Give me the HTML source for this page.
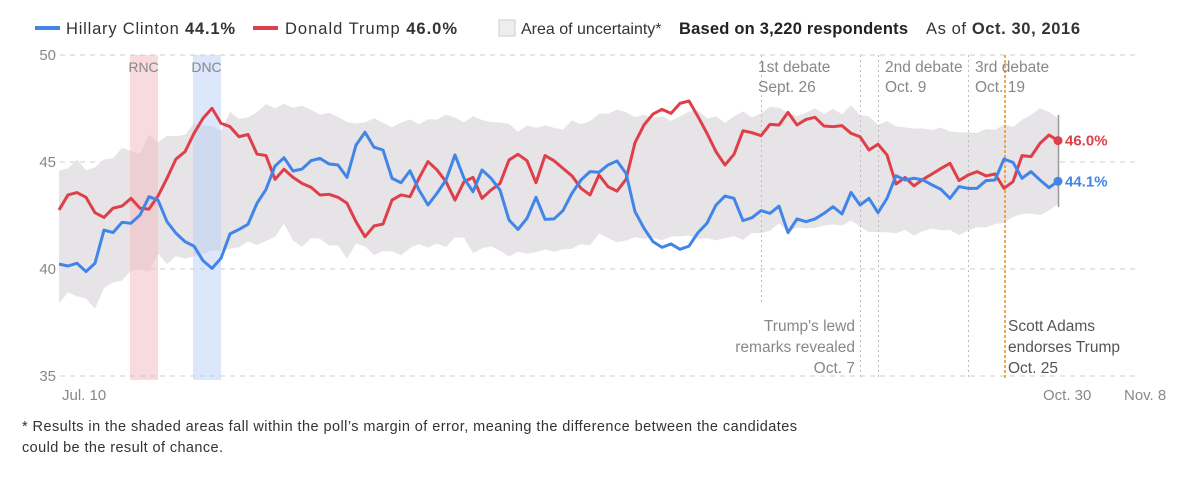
<!DOCTYPE html>
<html><head><meta charset="utf-8">
<style>
body{margin:0;background:#fff;font-family:"Liberation Sans",sans-serif;}
#wrap{position:relative;width:1200px;height:488px;overflow:hidden;}
svg text{font-family:"Liberation Sans",sans-serif;}
</style></head>
<body>
<div id="wrap">
<svg id="chart" width="1200" height="488">
  <g>
    <line x1="35" y1="28" x2="60" y2="28" stroke="#4285e8" stroke-width="4"/>
    <text x="66" y="34" font-size="16.5" fill="#333" textLength="169" lengthAdjust="spacing">Hillary Clinton <tspan font-weight="bold">44.1%</tspan></text>
    <line x1="253" y1="28" x2="278" y2="28" stroke="#de3f49" stroke-width="4"/>
    <text x="285" y="34" font-size="16.5" fill="#333" textLength="172" lengthAdjust="spacing">Donald Trump <tspan font-weight="bold">46.0%</tspan></text>
    <rect x="499" y="20" width="16" height="16" fill="#eeeeee" stroke="#ccc"/>
    <text x="521" y="34" font-size="16" fill="#333">Area of uncertainty*</text>
    <text x="679" y="34" font-size="16.5" fill="#222" font-weight="bold" textLength="229" lengthAdjust="spacing">Based on 3,220 respondents</text>
    <text x="926" y="34" font-size="16.5" fill="#333" textLength="154" lengthAdjust="spacing">As of <tspan font-weight="bold">Oct. 30, 2016</tspan></text>
  </g>
  <g id="grid"></g>
  <g id="band"></g>
  <g id="bands"></g>
  <g id="events"></g>
  <g id="lines"></g>
  <g id="labels"></g>
  <text x="22" y="431" font-size="14.5" fill="#333" textLength="775" lengthAdjust="spacing">* Results in the shaded areas fall within the poll’s margin of error, meaning the difference between the candidates</text>
  <text x="22" y="452" font-size="14.5" fill="#333" textLength="201" lengthAdjust="spacing">could be the result of chance.</text>
</svg>
</div>
<script>
const yTicks=[50,45,40,35];
const clinton=[40.23,40.14,40.27,39.88,40.27,41.82,41.70,42.18,42.14,42.52,43.38,43.22,42.21,41.67,41.28,41.07,40.39,40.03,40.50,41.64,41.85,42.09,43.07,43.72,44.81,45.20,44.58,44.67,45.06,45.17,44.91,44.86,44.28,45.79,46.39,45.69,45.56,44.24,44.03,44.59,43.69,42.99,43.54,44.16,45.33,44.24,43.61,44.63,44.24,43.69,42.29,41.85,42.37,43.35,42.32,42.34,42.73,43.54,44.16,44.55,44.52,44.86,45.05,44.47,42.68,41.90,41.28,41.01,41.17,40.92,41.07,41.70,42.14,42.99,43.41,43.30,42.26,42.40,42.73,42.60,42.94,41.70,42.34,42.21,42.34,42.60,42.91,42.57,43.58,42.99,43.30,42.63,43.30,44.36,44.16,44.24,44.16,43.93,43.72,43.30,43.85,43.77,43.77,44.13,44.16,45.14,44.98,44.24,44.55,44.16,43.80,44.10];
const trump=[42.76,43.46,43.57,43.35,42.63,42.41,42.84,42.94,43.30,42.84,42.80,43.41,44.24,45.14,45.48,46.34,47.04,47.51,46.81,46.65,46.18,46.29,45.37,45.30,44.19,44.66,44.28,44.00,43.82,43.46,43.49,43.35,43.07,42.21,41.51,42.01,42.10,43.22,43.46,43.38,44.24,45.02,44.63,44.08,43.22,44.08,44.28,43.30,43.69,44.00,45.09,45.36,45.06,44.03,45.30,45.06,44.70,44.35,43.77,43.46,44.39,43.85,43.64,44.19,45.90,46.73,47.24,47.46,47.27,47.74,47.85,47.12,46.34,45.48,44.86,45.36,46.46,46.37,46.23,46.76,46.73,47.32,46.73,46.99,47.09,46.68,46.65,46.70,46.34,46.18,45.56,45.83,45.33,43.97,44.28,43.88,44.19,44.44,44.70,44.94,44.13,44.39,44.55,44.35,44.44,43.77,44.08,45.30,45.25,45.87,46.26,46.00];
const margin=[3.1,2.9,3.2,3.0,3.3,3.0,2.9,3.1,2.8,2.7,3.2,2.6,3.0,2.8,2.9,3.1,3.0,2.9,2.8,3.2,3.0,2.9,3.1,3.2,3.0,2.8,3.1,3.3,3.0,2.9,3.1,3.0,3.2,2.8,2.9,3.2,3.0,2.9,3.1,3.0,2.8,3.0,2.9,3.1,2.8,2.7,3.2,3.0,2.9,3.0,3.1,2.8,3.0,2.9,2.9,2.9,2.8,3.0,2.8,2.9,2.8,2.9,3.1,3.0,2.8,2.9,2.8,2.9,2.7,2.8,2.9,3.0,2.8,2.9,2.7,2.8,3.0,2.7,2.8,2.9,2.7,2.8,2.6,2.7,2.8,2.6,2.7,2.6,2.7,2.6,2.7,2.5,2.6,2.5,2.4,2.5,2.4,2.3,2.4,2.3,2.4,2.3,2.2,2.3,2.2,2.3,2.1,2.2,2.3,2.5,2.3,2.0];
const conventions=[{name:"RNC",start:8,end:11,color:"#f2b8c0"},{name:"DNC",start:15,end:18,color:"#b9cff7"}];
const events=[{day:78,top:55,bottom:305},{day:89,top:55,bottom:380},{day:91,top:55,bottom:380},{day:101,top:55,bottom:380}];
const xLabels=[{day:0,text:"Jul. 10"},{day:112,text:"Oct. 30"},{day:121,text:"Nov. 8"}];

const X=d=>59+9*d, Y=v=>162-(v-45)*21.4;
const NS="http://www.w3.org/2000/svg";
function mk(tag,attrs,parent,text){const e=document.createElementNS(NS,tag);for(const k in attrs)e.setAttribute(k,attrs[k]);if(text!==undefined)e.textContent=text;document.getElementById(parent).appendChild(e);return e;}

yTicks.forEach(v=>{
  const l=mk('line',{x1:60,x2:1140,y1:Y(v),y2:Y(v),stroke:'#ccc','stroke-dasharray':'5,5'},'grid');
  
  
  const t=mk('text',{x:56,y:Y(v)+5,'text-anchor':'end','font-size':15,fill:'#888'},'labels',v);
  
  
});
let up='',lo='';
clinton.forEach((c,i)=>{const m=(c+trump[i])/2;up+=(i?'L':'M')+X(i)+','+Y(m+margin[i]);});
for(let i=clinton.length-1;i>=0;i--){const m=(clinton[i]+trump[i])/2;lo+='L'+X(i)+','+Y(m-margin[i]);}
const band=mk('path',{d:up+lo+'Z',fill:'#e6e4e7'},'band');


conventions.forEach(c=>{
  const r=mk('rect',{x:X(c.start)-1,y:55,width:X(c.end)-X(c.start)+1,height:325,fill:c.color,'fill-opacity':0.5},'bands');
  
  
  const t=mk('text',{x:(X(c.start)+X(c.end))/2-1,y:72,'text-anchor':'middle','font-size':14,fill:'#888'},'labels',c.name);
  
  
});
events.forEach(ev=>{
  const l=mk('line',{x1:X(ev.day)+.5,x2:X(ev.day)+.5,y1:ev.top,y2:ev.bottom,stroke:'#bbb','stroke-dasharray':'2,3'},'events');
  
  
});
const orange=mk('line',{x1:1005,x2:1005,y1:55,y2:380,stroke:'#f08c1c','stroke-width':1.5,'stroke-dasharray':'3,2'},'events');


const last=clinton.length-1;
const eb=mk('line',{x1:X(last)+0.5,x2:X(last)+0.5,y1:Y(Math.max(clinton[last],trump[last])+1.2),y2:Y(Math.min(clinton[last],trump[last])-1.2),stroke:'#999','stroke-width':1.5},'events');


[[trump,'#de3f49','trump'],[clinton,'#4285e8','clinton']].forEach(([arr,col,nm])=>{
  const p=mk('path',{d:arr.map((v,i)=>(i?'L':'M')+X(i)+','+Y(v)).join(''),fill:'none',stroke:col,'stroke-width':3,'stroke-linejoin':'round'},'lines');
  
  
  const d=mk('circle',{cx:X(last),cy:Y(arr[last]),r:4.5,fill:col},'lines');
  
  
  const t=mk('text',{x:X(last)+7,y:Y(arr[last])+5,'font-size':15,'font-weight':'bold',fill:col},'labels',arr[last].toFixed(1)+'%');
  
  
});
xLabels.forEach(l=>{
  const t=mk('text',{x:l.day===0?62:X(l.day)-24,y:400,'font-size':15,fill:'#888'},'labels',l.text);
  
  
});
const ann=[
 {x:758,y:72,a:'start',t:'1st debate',c:'#888'},{x:758,y:92,a:'start',t:'Sept. 26',c:'#888'},
 {x:885,y:72,a:'start',t:'2nd debate',c:'#888'},{x:885,y:92,a:'start',t:'Oct. 9',c:'#888'},
 {x:975,y:72,a:'start',t:'3rd debate',c:'#888'},{x:975,y:92,a:'start',t:'Oct. 19',c:'#888'},
 {x:855,y:331,a:'end',t:"Trump's lewd",c:'#888'},{x:855,y:352,a:'end',t:'remarks revealed',c:'#888'},{x:855,y:373,a:'end',t:'Oct. 7',c:'#888'},
 {x:1008,y:331,a:'start',t:'Scott Adams',c:'#555'},{x:1008,y:352,a:'start',t:'endorses Trump',c:'#555'},{x:1008,y:373,a:'start',t:'Oct. 25',c:'#555'}];
ann.forEach((a,i)=>{
  const t=mk('text',{x:a.x,y:a.y,'text-anchor':a.a,'font-size':15.5,fill:a.c},'labels',a.t);
  
  
});
</script>
</body></html>
